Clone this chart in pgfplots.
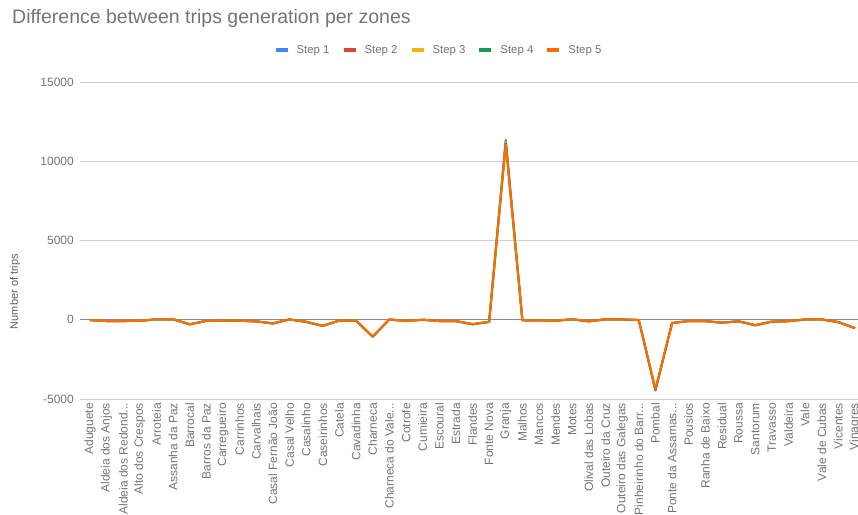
\documentclass[border=0pt]{standalone}
\usepackage{fontspec}
\setmainfont{Liberation Sans}
\usepackage{pgfplots}
\pgfplotsset{compat=1.18}
\usepackage{pgfplotstable}

\definecolor{stepA}{HTML}{4285F4}
\definecolor{stepB}{HTML}{DB4437}
\definecolor{stepC}{HTML}{F4B400}
\definecolor{stepD}{HTML}{0F9D58}
\definecolor{stepE}{HTML}{FF6D01}
\definecolor{titlegray}{HTML}{757575}
\definecolor{tickgray}{HTML}{757575}
\definecolor{labelgray}{HTML}{5F5F5F}
\definecolor{gridgray}{HTML}{D0D0D0}
\definecolor{zerogray}{HTML}{8A8A8A}

% truncated zone names end in three dots
\newcommand{\trunc}{.{}.{}.}

% difference in generated trips per zone, one column per step
\pgfplotstableread{
idx s1 s2 s3 s4 s5
0 -20 -20 -20 -20 -20
1 -80 -80 -85 -80 -80
2 -80 -85 -80 -80 -80
3 -70 -70 -70 -75 -70
4 30 30 30 30 30
5 30 30 30 30 30
6 -300 -290 -290 -285 -280
7 -70 -70 -70 -70 -70
8 -60 -60 -60 -60 -60
9 -60 -60 -60 -60 -60
10 -110 -105 -100 -100 -100
11 -240 -235 -230 -230 -230
12 20 20 20 20 20
13 -140 -135 -130 -130 -130
14 -400 -390 -385 -380 -380
15 -50 -50 -50 -50 -50
16 -60 -60 -60 -60 -60
17 -1080 -1070 -1060 -1055 -1050
18 20 20 20 20 20
19 -80 -80 -80 -80 -80
20 0 0 0 0 0
21 -80 -80 -80 -80 -80
22 -90 -85 -80 -80 -80
23 -290 -285 -280 -280 -280
24 -140 -135 -130 -130 -130
25 11350 11280 11200 11130 11050
26 -30 -30 -30 -30 -30
27 -40 -40 -40 -40 -40
28 -60 -60 -60 -60 -60
29 30 30 30 30 30
30 -100 -100 -100 -100 -100
31 30 30 30 30 30
32 20 20 20 20 20
33 -20 -20 -20 -20 -20
34 -4420 -4440 -4450 -4460 -4370
35 -210 -210 -210 -210 -210
36 -80 -80 -80 -80 -80
37 -90 -90 -90 -90 -90
38 -190 -185 -180 -180 -180
39 -100 -100 -100 -100 -100
40 -350 -345 -340 -340 -340
41 -120 -120 -120 -120 -120
42 -90 -90 -90 -90 -90
43 20 20 20 20 20
44 20 20 20 20 20
45 -150 -150 -150 -150 -150
46 -540 -535 -530 -530 -530
}\tripdiff

\begin{document}
\begin{tikzpicture}[x=1pt,y=1pt]
\path[use as bounding box] (-80,-115) rectangle (778,399);
\begin{axis}[
  scale only axis,
  width=778pt, height=317pt,
  xmin=-0.6, xmax=46.18,
  ymin=-5000, ymax=15000,
  scaled y ticks=false,
  axis line style={draw=none},
  major tick length=0pt,
  xtick={0,1,2,3,4,5,6,7,8,9,10,11,12,13,14,15,16,17,18,19,20,21,22,23,24,25,26,27,28,29,30,31,32,33,34,35,36,37,38,39,40,41,42,43,44,45,46},
  xticklabels={Aduguete,Aldeia dos Anjos,Aldeia dos Redond\trunc,Alto dos Crespos,Arroteia,Assanha da Paz,Barrocal,Barros da Paz,Carregueiro,Carrinhos,Carvalhais,Casal Fernão João,Casal Velho,Casalinho,Caseirinhos,Catela,Cavadinha,Charneca,Charneca do Vale\trunc,Cotrofe,Cumieira,Escoural,Estrada,Flandes,Fonte Nova,Granja,Malhos,Mancos,Mendes,Motes,Olival das Lobas,Outeiro da Cruz,Outeiro das Galegas,Pinheirinho do Barr\trunc,Pombal,Ponte da Assamas\trunc,Pousios,Ranha de Baixo,Residual,Roussa,Santorum,Travasso,Valdeira,Vale,Vale de Cubas,Vicentes,Vinagres},
  xticklabel style={rotate=90, anchor=east, inner sep=0pt,
    font=\fontsize{12}{14}\selectfont, text=tickgray},
  xticklabel shift=4pt,
  ytick={-5000,5000,10000,15000},
  yticklabels={-5000,5000,10000,15000},
  extra y ticks={0},
  extra y tick labels={0},
  extra y tick style={grid style={color=zerogray, line width=1.3pt}},
  yticklabel style={anchor=east, inner sep=0pt,
    font=\fontsize{12}{14}\selectfont, text=tickgray},
  yticklabel shift=6pt,
  ymajorgrids,
  grid style={color=gridgray, line width=0.9pt},
  title={Difference between trips generation per zones},
  title style={at={(axis description cs:-0.0874,1.181)}, anchor=west,
    inner sep=0pt, font=\fontsize{19.5}{22}\selectfont, text=titlegray},
  ylabel={Number of trips},
  ylabel style={at={(axis description cs:-0.0835,0.339)}, anchor=center,
    inner sep=0pt, font=\fontsize{11}{13}\selectfont, text=labelgray},
  legend columns=5,
  legend image code/.code={\draw[#1, line width=4pt] (0pt,0pt) -- (12pt,0pt);},
  legend style={at={(axis description cs:0.4595,1.101)}, anchor=center,
    draw=none, fill=none, inner sep=0pt,
    font=\fontsize{11.4}{13}\selectfont, text=tickgray,
    nodes={inner sep=0pt},
    /tikz/every odd column/.append style={column sep=7pt},
    /tikz/every even column/.append style={column sep=12pt}},
  every axis plot/.append style={line width=2pt, line join=round},
]
\addplot[stepA] table[x=idx, y=s1] {\tripdiff};
\addplot[stepB] table[x=idx, y=s2] {\tripdiff};
\addplot[stepC] table[x=idx, y=s3] {\tripdiff};
\addplot[stepD] table[x=idx, y=s4] {\tripdiff};
\addplot[stepE] table[x=idx, y=s5] {\tripdiff};
\legend{Step 1,Step 2,Step 3,Step 4,Step 5}
\end{axis}
\end{tikzpicture}
\end{document}
